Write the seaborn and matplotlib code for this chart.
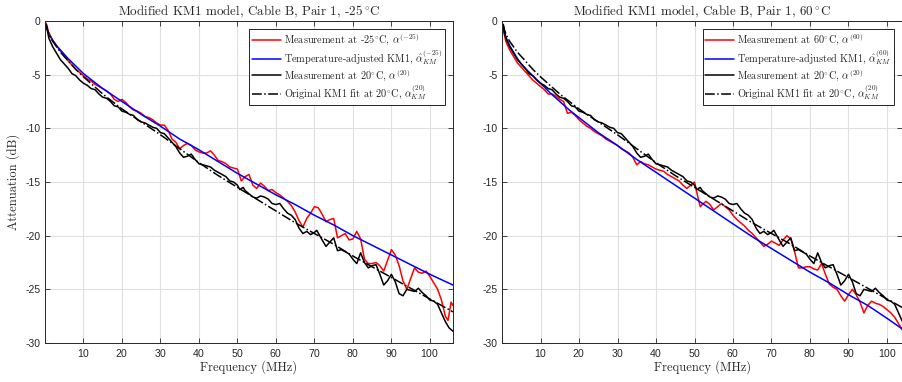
import matplotlib
matplotlib.use("Agg")
import matplotlib.pyplot as plt
import seaborn as sns

# frequency grids (MHz) and attenuation (dB)
f_smooth = [0.3, 0.6, 1, 1.5, 2, 3, 4, 5, 6, 8, 10, 12.5, 15, 17.5, 20, 25, 30, 35,
            40, 45, 50, 55, 60, 65, 70, 75, 80, 85, 90, 95, 100, 106]

# original KM1 fit at 20 C (same in both panels)
att_fit20 = [-0.3, -0.8, -1.2, -1.6, -1.9, -2.4, -2.9, -3.3, -3.7, -4.5, -5.2, -6.0, -6.8, -7.5,
             -8.2, -9.4, -10.6, -11.9, -13.2, -14.4, -15.5, -16.6, -17.7, -18.8, -19.8, -20.8,
             -21.9, -22.9, -23.9, -24.9, -25.9, -27.1]

# temperature-adjusted KM1, -25 C
att_km_cold = [-0.5, -0.8, -1.2, -1.5, -1.8, -2.3, -2.7, -3.1, -3.5, -4.2, -4.9, -5.6, -6.3, -6.9,
               -7.5, -8.7, -9.8, -11.0, -12.0, -13.1, -14.2, -15.2, -16.2, -17.1, -18.1, -19.0,
               -20.0, -20.9, -21.8, -22.7, -23.6, -24.6]

# temperature-adjusted KM1, 60 C
att_km_hot = [-0.7, -1.1, -1.5, -1.9, -2.3, -2.9, -3.5, -4.0, -4.4, -5.1, -5.8, -6.7, -7.5, -8.3,
              -9.0, -10.4, -11.6, -12.9, -14.1, -15.3, -16.5, -17.7, -18.9, -20.1, -21.2, -22.3,
              -23.4, -24.4, -25.5, -26.5, -27.7, -29.2]

# measurement at 20 C
f_meas20 = [0.3, 1, 2, 3, 4, 5, 6, 7, 8, 9, 10, 11, 12, 13, 14, 15, 16, 17, 18, 19, 20, 21, 22,
            23, 24, 25, 26, 27, 28, 29, 30, 31, 32, 33, 34, 35, 36, 37, 38, 39, 40, 41, 42, 43,
            44, 45, 46, 47, 48, 49, 50, 50.6, 51.5, 52, 53, 54, 55, 56, 57, 58, 59, 60, 61, 62,
            63, 64, 65, 66, 67, 68, 69, 70, 70.6, 72, 73, 74, 75, 76, 77, 78, 79, 80, 81, 82,
            83, 84, 85, 86, 87, 88, 89, 90, 91, 92, 93, 94, 95, 96, 97, 98, 99, 100, 101, 102,
            103, 104, 105, 106]
att_meas20 = [-0.3, -1.6, -2.4, -3.0, -3.6, -4.0, -4.4, -4.9, -5.1, -5.5, -5.8, -6.0, -6.3, -6.4,
              -6.8, -7.1, -7.2, -7.5, -7.9, -8.0, -8.4, -8.5, -8.7, -8.8, -9.2, -9.4, -9.5, -9.7,
              -9.9, -10.0, -10.4, -10.5, -10.9, -11.3, -11.7, -12.3, -12.7, -12.6, -12.4, -12.9,
              -13.3, -13.4, -13.5, -13.6, -13.9, -14.1, -14.3, -14.5, -14.9, -15.0, -15.3, -15.7,
              -15.5, -15.8, -16.1, -16.4, -16.5, -16.3, -16.4, -16.6, -17.0, -17.1, -17.0, -17.5,
              -17.9, -18.1, -18.5, -19.3, -19.8, -19.6, -19.9, -19.7, -19.5, -20.4, -21.0, -20.6,
              -20.2, -21.4, -21.3, -21.5, -21.7, -22.2, -22.6, -21.6, -22.5, -23.0, -22.8, -22.7,
              -23.6, -24.6, -24.2, -23.6, -24.3, -25.4, -25.6, -25.0, -25.1, -25.2, -24.9, -25.3,
              -25.6, -26.0, -26.1, -26.4, -27.2, -28.0, -28.6, -28.9]

# measurement at -25 C
f_cold = [0.3, 1, 2, 3, 4, 5, 6, 7, 8, 9, 10, 11, 12, 13, 14, 15, 16, 17, 18, 19, 20, 21, 22,
          23, 24, 25, 26, 27, 28, 29, 30, 31, 32, 33, 34, 35, 36, 37, 38, 39, 40, 41, 42, 43,
          44, 45, 46, 47, 48, 49, 50, 51, 52, 53, 54, 55, 56, 57, 58, 59, 60, 61, 62, 63, 64,
          65, 66, 67, 68, 69, 70, 71, 72, 73, 74, 75, 76, 77, 78, 79, 80, 81, 82, 83, 84, 85,
          86, 87, 88, 89, 90, 91, 92, 93, 94, 95, 96, 97, 98, 99, 100, 101, 102, 103, 104,
          104.7, 105.5, 106]
att_cold = [-0.2, -1.1, -1.8, -2.3, -2.8, -3.3, -3.7, -4.1, -4.5, -4.8, -5.1, -5.4, -5.6, -5.9,
            -6.1, -6.3, -6.5, -6.8, -7.3, -7.5, -7.3, -7.6, -8.0, -8.3, -8.4, -8.6, -8.9, -9.0,
            -9.2, -9.5, -9.7, -9.7, -10.2, -11.0, -11.3, -11.9, -11.6, -11.4, -11.6, -12.0,
            -12.2, -12.3, -12.3, -12.1, -12.5, -13.0, -13.1, -13.3, -13.6, -13.7, -13.8, -14.9,
            -14.5, -14.3, -15.3, -15.6, -15.1, -15.4, -15.8, -15.7, -16.0, -16.2, -16.5, -16.8,
            -17.2, -17.8, -18.6, -19.2, -18.4, -17.9, -17.3, -17.4, -18.0, -18.7, -18.5, -18.4,
            -20.2, -20.0, -19.8, -20.4, -20.3, -19.6, -20.3, -22.2, -22.6, -22.6, -22.5, -22.8,
            -23.3, -22.3, -21.3, -21.8, -22.8, -24.2, -25.0, -24.0, -23.0, -23.4, -23.5, -23.3,
            -23.8, -24.4, -25.0, -26.0, -27.5, -27.9, -26.2, -26.5]

# measurement at 60 C
f_hot = [0.3, 1, 2, 3, 4, 5, 6, 7, 8, 9, 10, 11, 12, 13, 14, 15, 16, 17, 18, 19, 20, 21, 22,
         23, 24, 25, 26, 27, 28, 29, 30, 31, 32, 33, 34, 35, 36, 37, 38, 39, 40, 41, 42, 43,
         44, 45, 46, 47, 48, 49, 50, 51, 51.5, 52, 53, 54, 55, 56, 57, 58, 59, 60, 61, 62, 63,
         64, 65, 66, 67, 68, 69, 70, 71, 72, 73, 74, 75, 76, 77, 78, 79, 80, 81, 82, 83, 84,
         85, 86, 87, 88, 89, 90, 91, 92, 93, 94, 95, 96, 97, 98, 99, 100, 101, 102, 103, 104.2]
att_hot = [-0.8, -1.9, -2.7, -3.3, -3.9, -4.3, -4.7, -5.1, -5.5, -5.8, -6.1, -6.4, -6.8, -6.8,
           -7.0, -7.3, -7.5, -8.6, -8.5, -8.8, -9.2, -9.5, -9.8, -10.0, -10.3, -10.5, -10.7,
           -11.0, -11.2, -11.4, -11.6, -11.9, -12.1, -12.3, -12.7, -13.4, -13.1, -13.3, -13.4,
           -13.6, -13.8, -13.9, -14.0, -14.3, -14.5, -14.7, -14.9, -15.3, -15.6, -15.3, -15.0,
           -16.6, -17.3, -17.1, -16.8, -17.1, -17.6, -17.3, -17.0, -17.3, -17.6, -18.1, -18.5,
           -18.8, -19.1, -19.5, -19.8, -20.2, -20.6, -21.0, -20.8, -20.5, -20.7, -20.9, -20.4,
           -20.0, -20.3, -21.5, -23.0, -23.0, -22.9, -22.9, -23.1, -23.2, -22.6, -23.6, -24.5,
           -24.8, -25.0, -25.6, -26.1, -25.5, -25.0, -25.5, -26.2, -27.2, -26.5, -26.1, -26.3,
           -26.4, -26.6, -26.9, -27.2, -27.6, -28.2, -28.9]

sns.set_style("whitegrid", {
    "grid.color": "#e0e0e0", "axes.edgecolor": "#262626",
    "xtick.bottom": True, "ytick.left": True, "xtick.top": True, "ytick.right": True,
    "xtick.direction": "in", "ytick.direction": "in",
})
plt.rcParams["font.family"] = ["cmr10", "DejaVu Serif"]
plt.rcParams["mathtext.fontset"] = "cm"
plt.rcParams["axes.formatter.use_mathtext"] = True
plt.rcParams["axes.unicode_minus"] = False

fig = plt.figure(figsize=(9.03, 3.82), dpi=100)
ax1 = fig.add_axes([45 / 903, 39 / 382, 408 / 903, 322 / 382])
ax2 = fig.add_axes([502 / 903, 39 / 382, 400.4 / 903, 322 / 382])

panels = [
    (ax1, "-25", f_cold, att_cold, att_km_cold, 106),
    (ax2, "60", f_hot, att_hot, att_km_hot, 104),
]

for ax, t, f_meas, att_meas, att_km, fmax in panels:
    sns.lineplot(x=f_meas, y=att_meas, ax=ax, color="#ff0000", lw=1.1, sort=False,
                 estimator=None, label=r"Measurement at %s$^{\circ}$C, $\alpha^{(%s)}$" % (t, t))
    sns.lineplot(x=f_smooth, y=att_km, ax=ax, color="#0000ff", lw=1.1, sort=False,
                 estimator=None, label=r"Temperature-adjusted KM1, $\hat{\alpha}_{KM}^{(%s)}$" % t)
    sns.lineplot(x=f_meas20, y=att_meas20, ax=ax, color="black", lw=1.1, sort=False,
                 estimator=None, label=r"Measurement at 20$^{\circ}$C, $\alpha^{(20)}$")
    sns.lineplot(x=f_smooth, y=att_fit20, ax=ax, color="black", lw=1.1, linestyle="-.",
                 sort=False, estimator=None,
                 label=r"Original KM1 fit at 20$^{\circ}$C, $\alpha_{KM}^{(20)}$")

    ax.set_xlim(0, fmax)
    ax.set_ylim(-30, 0)
    ax.set_xticks(range(10, 101, 10))
    ax.set_yticks(range(-30, 1, 5))
    ax.set_yticklabels([str(v) for v in range(-30, 1, 5)])
    ax.tick_params(labelsize=7.5, labelfontfamily="Liberation Sans", labelcolor="#262626",
                   length=3.5, width=0.6, color="#262626", pad=3)
    for s in ax.spines.values():
        s.set_linewidth(0.7)
    ax.grid(True, lw=0.8)
    ax.set_title(r"Modified KM1 model, Cable B, Pair 1, %s$\,^{\circ}$C" % t, fontsize=9.4, pad=4)
    ax.set_xlabel("Frequency (MHz)", fontsize=9, labelpad=1)
    ax.set_ylabel("")
    leg = ax.legend(loc="upper right", fontsize=7.4, frameon=True, fancybox=False,
                    framealpha=1, edgecolor="black", borderaxespad=0.8, borderpad=0.25,
                    labelspacing=0.0, handlelength=2.8, handletextpad=0.3)
    leg.get_frame().set_linewidth(0.6)

ax1.set_ylabel("Attenuation (dB)", fontsize=9, labelpad=4)

plt.savefig("out.png", dpi=100)
